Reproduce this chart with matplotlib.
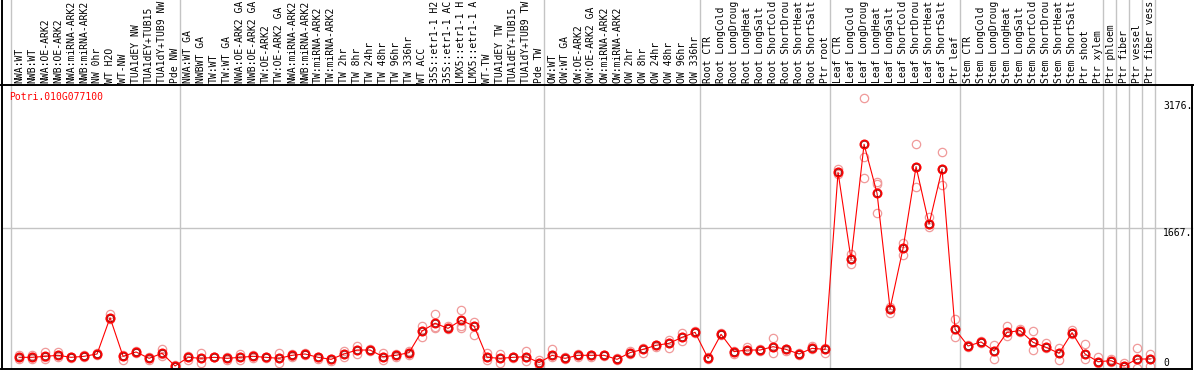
import numpy as np
import matplotlib
matplotlib.use('Agg')
import matplotlib.pyplot as plt
from matplotlib.lines import Line2D

gene = 'Potri.010G077100'

labels = [
    'NWA:WT', 'NWB:WT', 'NWA:OE-ARK2', 'NWB:OE-ARK2', 'NWA:miRNA-ARK2', 'NWB:miRNA-ARK2',
    'NW 0hr', 'WT H2O', 'WT-NW', 'TUA1dEY NW', 'TUA1dEY+TUB15', 'TUA1dY+TUB9 NW', 'Pde NW',
    'NWA:WT GA', 'NWBWT GA', 'TW:WT', 'TW:WT GA', 'NWA:OE-ARK2 GA', 'NWB:OE-ARK2 GA',
    'TW:OE-ARK2', 'TW:OE-ARK2 GA', 'NWA:miRNA-ARK2', 'NWB:miRNA-ARK2', 'TW:miRNA-ARK2',
    'TW:miRNA-ARK2', 'TW 2hr', 'TW 8hr', 'TW 24hr', 'TW 48hr', 'TW 96hr', 'TW 336hr', 'WT ACC',
    '35S::etr1-1 H2', '35S::etr1-1 AC', 'LMX5::etr1-1 H', 'LMX5::etr1-1 A', 'WT-TW',
    'TUA1dEY TW', 'TUA1dEY+TUB15', 'TUA1dY+TUB9 TW', 'Pde TW',
    'OW:WT', 'OW:WT GA', 'OW:OE-ARK2', 'OW:OE-ARK2 GA', 'OW:miRNA-ARK2', 'OW:miRNA-ARK2',
    'OW 2hr', 'OW 8hr', 'OW 24hr', 'OW 48hr', 'OW 96hr', 'OW 336hr',
    'Root CTR', 'Root LongCold', 'Root LongDroug', 'Root LongHeat', 'Root LongSalt',
    'Root ShortCold', 'Root ShortDrou', 'Root ShortHeat', 'Root ShortSalt', 'Ptr root',
    'Leaf CTR', 'Leaf LongCold', 'Leaf LongDroug', 'Leaf LongHeat', 'Leaf LongSalt',
    'Leaf ShortCold', 'Leaf ShortDrou', 'Leaf ShortHeat', 'Leaf ShortSalt', 'Ptr leaf',
    'Stem CTR', 'Stem LongCold', 'Stem LongDroug', 'Stem LongHeat', 'Stem LongSalt',
    'Stem ShortCold', 'Stem ShortDrou', 'Stem ShortHeat', 'Stem ShortSalt', 'Ptr shoot',
    'Ptr xylem', 'Ptr phloem', 'Ptr fiber', 'Ptr vessel', 'Ptr fiber vess',
]

means = [
    127, 127, 139, 151, 127, 139, 167, 599, 139, 191, 115, 175, 24,
    127, 115, 127, 115, 127, 139, 127, 115, 151, 167, 127, 103, 167, 214, 214, 135, 151,
    183, 441, 532, 472, 568, 500, 127, 115, 127, 135, 64,
    151, 115, 151, 151, 151, 103, 183, 222, 270, 294, 365, 425,
    115, 401, 195, 214, 214, 254, 222, 167, 234, 222,
    2330, 1294, 2664, 2080, 707, 1425, 2398, 1711, 2370, 461,
    262, 310, 202, 425, 445, 306, 246, 175, 421, 167, 75,
    87, 24, 107, 107,
]

reps = [
    [151, 107, 127], [151, 103, 127], [191, 111, 127], [191, 127, 151], [127, 131, 123],
    [151, 127, 139], [175, 159, 167], [639, 580, 599], [151, 95, 139], [206, 183, 191],
    [135, 95, 115], [222, 167, 139], [32, 8, 24],
    [139, 95, 127], [175, 56, 115], [127, 127, 127], [127, 95, 115], [167, 95, 127],
    [159, 119, 139], [127, 119, 127], [175, 56, 115], [167, 143, 127], [175, 159, 167],
    [135, 111, 127], [111, 87, 103], [206, 127, 167], [262, 167, 214], [230, 206, 214],
    [175, 95, 135], [167, 135, 151], [199, 151, 183], [504, 373, 441], [639, 472, 490],
    [504, 461, 472], [691, 504, 472], [548, 389, 500], [175, 95, 127], [167, 64, 115],
    [135, 119, 127], [199, 87, 135], [95, 40, 64],
    [222, 135, 151], [127, 103, 115], [167, 135, 151], [159, 135, 151], [159, 143, 151],
    [119, 95, 103], [199, 167, 183], [238, 175, 222], [278, 254, 270], [333, 234, 294],
    [421, 326, 365], [437, 413, 425],
    [127, 103, 115], [413, 389, 401], [206, 167, 195], [254, 199, 214], [230, 206, 214],
    [353, 183, 254], [230, 206, 222], [175, 151, 167], [262, 230, 234], [238, 175, 222],
    [2366, 2307, 2330], [1358, 1235, 1294], [3212, 2509, 2259], [2219, 2191, 1842],
    [651, 730, 707], [1493, 1346, 1425], [2664, 2152, 2398], [1794, 1683, 1711],
    [2573, 2180, 2370], [580, 373, 461],
    [274, 254, 262], [326, 294, 310], [274, 107, 202], [504, 381, 425], [461, 433, 445],
    [445, 214, 306], [294, 234, 246], [234, 95, 175], [453, 405, 421], [286, 103, 167],
    [127, 56, 75], [103, 75, 87], [64, 8, 24], [234, 0, 107], [167, 28, 107],
]

group_edges = [0, 13, 41, 53, 63, 73, 84, 85, 86, 87, 88]
grid_val = 1667
max_val = 3176

W, H = 1194, 370
fig = plt.figure(figsize=(W / 100, H / 100), dpi=100)
fig.patch.set_facecolor('white')

# plot area in pixels: x 11..1155, y 85..368
ax = fig.add_axes([11 / W, 1 - 368 / H, 1144 / W, 283 / H])
ax.set_xlim(0, 88)
ax.set_ylim(0, 283 * grid_val / 140)
ax.axis('off')

mono = 'DejaVu Sans Mono'
fs = 7.0
grey = '#c4c4c4'

for b in group_edges:
    ax.axvline(b, ymin=0, ymax=368 / 283, color=grey, lw=1.0, clip_on=False, zorder=0)
ax.axhline(grid_val, xmin=-9 / 1144, xmax=1181 / 1144, color=grey, lw=1.0,
           clip_on=False, zorder=0)

x = np.arange(len(means)) + 0.62
r = np.array(reps)

for k in range(r.shape[1]):
    ax.plot(x, r[:, k], 'o', mfc='none', mec='#f09a9a', ms=6.0, mew=0.9,
            clip_on=False, zorder=2)
ax.plot(x, means, '-', color='#ff0000', lw=0.8, clip_on=False, zorder=3)
ax.plot(x, means, 'o', mfc='none', mec='#ff0000', ms=6.0, mew=1.2, clip_on=False, zorder=4)
ax.plot(x, means, 'o', mfc='none', mec='#8a0000', ms=4.6, mew=0.5, clip_on=False, zorder=5)

# column labels in the header
for xi, lab in zip(x, labels):
    ax.text(xi, 1.006, lab, transform=ax.get_xaxis_transform(), rotation=90,
            ha='center', va='bottom', fontsize=fs, family=mono, color='black')

# value labels on the right
xr = (1163 - 11) / 13
ax.text(xr, max_val, '%d.' % max_val, ha='left', va='top', fontsize=fs, family=mono)
ax.text(xr, grid_val, '%d.' % grid_val, ha='left', va='top', fontsize=fs, family=mono)
ax.text(xr, 0, '0', ha='left', va='bottom', fontsize=fs, family=mono)

fig.text(9 / W, 1 - 97 / H, gene, color='#ff0000', fontsize=fs, family=mono,
         ha='left', va='center')

# frame lines
def hline(y, x0, x1):
    fig.add_artist(Line2D([x0 / W, x1 / W], [1 - y / H, 1 - y / H], color='black', lw=1.4))

def vline(xp, y0, y1):
    fig.add_artist(Line2D([xp / W, xp / W], [1 - y0 / H, 1 - y1 / H], color='black', lw=1.4))

hline(85, 1, 1194)
hline(368.5, 1, 1192)
vline(1.5, 0, 370)
vline(1192, 85, 369)

fig.savefig('out.png', dpi=100, facecolor='white')
